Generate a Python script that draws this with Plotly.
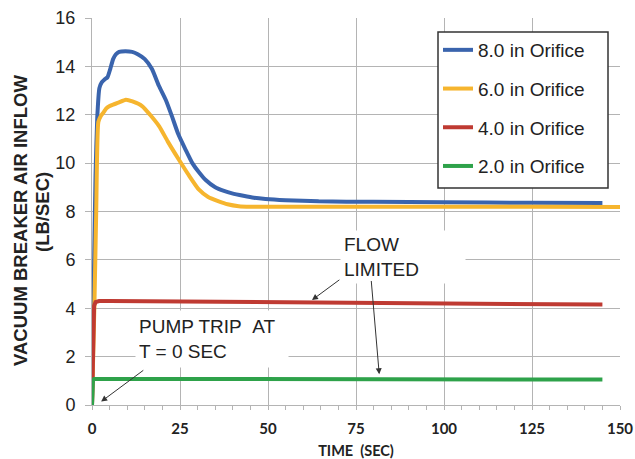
import plotly.graph_objects as go

# ---- data ----
t_8in = [0, 0.5, 1.0, 1.5, 2.1, 2.8, 3.5, 4.4, 5.2, 6.0, 6.8, 7.7, 9.5, 11.4, 13.0, 15.0, 17.0, 19.0,
         21.0, 22.8, 24.5, 26.6, 28.5, 30.5, 32.3, 35.0, 37.5, 39.8, 43.0, 46.0, 49.3, 55.0, 64.4,
         80.0, 100.0, 125.0, 145.0]
v_8in = [0, 5.0, 9.5, 11.9, 13.1, 13.35, 13.45, 13.55, 13.9, 14.3, 14.5, 14.6, 14.63, 14.6, 14.5,
         14.3, 13.9, 13.2, 12.6, 11.9, 11.2, 10.55, 10.0, 9.6, 9.3, 9.0, 8.85, 8.75, 8.65, 8.57,
         8.52, 8.47, 8.42, 8.40, 8.38, 8.36, 8.35]

t_6in = [0, 0.7, 1.2, 1.8, 2.5, 3.3, 4.0, 4.9, 6.0, 7.5, 9.6, 11.5, 14.3, 16.5, 19.1, 21.5, 24.7,
         27.5, 30.4, 33.0, 36.0, 38.5, 41.7, 45.0, 50.0, 60.0, 80.0, 100.0, 125.0, 150.0]
v_6in = [0, 4.2, 8.0, 11.7, 11.95, 12.1, 12.25, 12.35, 12.42, 12.5, 12.62, 12.55, 12.35, 12.0,
         11.52, 10.9, 10.14, 9.5, 8.9, 8.6, 8.42, 8.3, 8.22, 8.2, 8.2, 8.2, 8.2, 8.2, 8.2, 8.19]

t_4in = [0, 0.3, 0.6, 1.0, 2.0, 5.0, 30.0, 60.0, 100.0, 145.0]
v_4in = [0, 3.5, 4.1, 4.25, 4.3, 4.3, 4.28, 4.25, 4.2, 4.15]

t_2in = [0, 0.25, 0.6, 145.0]
v_2in = [0, 1.0, 1.08, 1.05]

series_names = ["8.0 in Orifice", "6.0 in Orifice", "4.0 in Orifice", "2.0 in Orifice"]
series_colors = ["#3a64ad", "#f6b52e", "#bf3a32", "#2ea24a"]
series_shapes = ["spline", "spline", "linear", "linear"]

x_ticks = [0, 25, 50, 75, 100, 125, 150]
y_ticks = [0, 2, 4, 6, 8, 10, 12, 14, 16]

fig = go.Figure()
for name, tt, vv, col, shp in zip(series_names, [t_8in, t_6in, t_4in, t_2in],
                                  [v_8in, v_6in, v_4in, v_2in], series_colors, series_shapes):
    line = dict(color=col, width=4, shape=shp)
    if shp == "spline":
        line["smoothing"] = 0.5
    fig.add_trace(go.Scatter(x=tt, y=vv, name=name, mode="lines", line=line, legendgroup=name))

grid_col = "#b4b4b4"
fig.update_xaxes(range=[0, 150], tickvals=x_ticks, showgrid=True, gridcolor=grid_col, gridwidth=1,
                 showline=True, linecolor=grid_col, linewidth=1, zeroline=False, automargin=False,
                 ticks="outside", ticklen=4, tickcolor=grid_col, ticklabelstandoff=6,
                 minor=dict(dtick=5, ticks="outside", ticklen=4, tickcolor=grid_col, showgrid=False),
                 tickfont=dict(family="Lato", size=15, color="#222", weight="bold"),
                 title=dict(text="TIME\u00a0\u00a0(SEC)",
                            font=dict(family="Lato", size=14.5, color="#222", weight="bold"),
                            standoff=18))
fig.update_yaxes(range=[0, 16], tickvals=y_ticks, showgrid=True, gridcolor=grid_col, gridwidth=1,
                 showline=True, linecolor=grid_col, linewidth=1, zeroline=False, automargin=False,
                 ticks="outside", ticklen=6, tickcolor=grid_col, ticklabelstandoff=6,
                 tickfont=dict(family="Liberation Sans", size=18, color="#222"))

ytitle_font = dict(family="Liberation Sans", size=18.5, color="#222", weight="bold")
fig.add_annotation(text="VACUUM BREAKER AIR INFLOW", xref="paper", yref="paper",
                   x=(20 - 92) / 528, y=(405 - 221) / 387, textangle=-90, showarrow=False,
                   font=ytitle_font, xanchor="center", yanchor="middle")
fig.add_annotation(text="(LB/SEC)", xref="paper", yref="paper",
                   x=(43 - 92) / 528, y=(405 - 212) / 387, textangle=-90, showarrow=False,
                   font=ytitle_font, xanchor="center", yanchor="middle")

ann_font = dict(family="Liberation Sans", size=19, color="#222")
fig.add_annotation(text="FLOW<br>LIMITED", x=88.3, y=6.12, xref="x", yref="y", showarrow=False,
                   align="left", width=118, height=46, bgcolor="white", borderpad=3, font=ann_font)
fig.add_annotation(text="PUMP TRIP\u00a0\u00a0AT<br>T = 0 SEC", x=34.0, y=2.72, xref="x", yref="y",
                   showarrow=False, align="left", width=146, height=50, bgcolor="white", borderpad=3,
                   font=ann_font)

arrows = [((70.7, 5.22), (62.5, 4.34)), ((79.3, 5.19), (81.6, 1.27)), ((15.0, 1.48), (2.6, 0.14))]
for (tx, ty), (hx, hy) in arrows:
    fig.add_annotation(x=hx, y=hy, ax=tx, ay=ty, xref="x", yref="y", axref="x", ayref="y", text="",
                       showarrow=True, arrowhead=2, arrowsize=1.2, arrowwidth=1, arrowcolor="#333")

# legend frame (drawn as a shape so its size can match the reference box)
fig.add_shape(type="rect", xref="paper", yref="paper", layer="above",
              x0=(438 - 92) / 528, x1=(608 - 92) / 528, y0=(405 - 188) / 387, y1=(405 - 32) / 387,
              fillcolor="white", line=dict(color="#333", width=1.5))

fig.update_layout(
    width=635, height=459, margin=dict(l=92, r=15, t=18, b=54),
    paper_bgcolor="white", plot_bgcolor="white",
    legend=dict(x=(438 - 92) / 528, y=(405 - 31) / 387, xanchor="left", yanchor="top",
                bgcolor="rgba(0,0,0,0)", borderwidth=0,
                font=dict(family="Liberation Sans", size=19, color="#222"),
                tracegroupgap=11, traceorder="grouped", itemwidth=30),
)

# remove the default 8px page margin so the 635x459 figure fills the window exactly
fig.write_html("out.html", config={"displayModeBar": False},
               post_script="document.body.style.margin='0';document.body.style.overflow='hidden';")
